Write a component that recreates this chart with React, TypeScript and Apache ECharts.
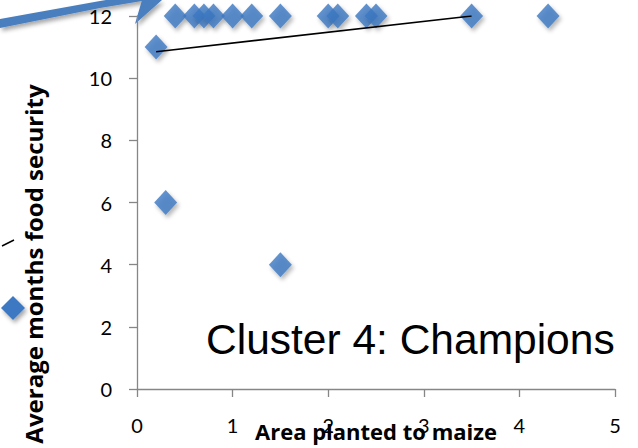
import React, { useEffect, useRef } from "react";
import * as echarts from "echarts";

const xTicks = [0, 1, 2, 3, 4, 5];
const yTicks = [0, 2, 4, 6, 8, 10, 12];
const areaPlanted = [0.2, 0.3, 0.4, 0.6, 0.7, 0.8, 1.0, 1.2, 1.5, 1.5, 2.0, 2.1, 2.4, 2.5, 3.5, 4.3];
const monthsSecure = [11, 6, 12, 12, 12, 12, 12, 12, 12, 4, 12, 12, 12, 12, 12, 12];
const trendX = [0.2, 3.5];
const trendY = [10.85, 12.0];
const xTitle = "Area planted to maize";
const yTitle = "Average months food security";
const clusterLabel = "Cluster 4: Champions";

const BLUE = "#3c78c2";

export default function App() {
  const ref = useRef<HTMLDivElement>(null);
  useEffect(() => {
    if (!ref.current) return;
    const chart = echarts.init(ref.current, null, { renderer: "svg" });
    const axisColor = "#868686";
    const shadow = {
      shadowColor: "rgba(0,0,0,0.35)",
      shadowBlur: 4,
      shadowOffsetX: 2,
      shadowOffsetY: 3,
    };
    chart.setOption({
      animation: false,
      backgroundColor: "#ffffff",
      grid: {
        left: 137,
        right: 23,
        top: 16,
        bottom: 59,
        containLabel: false,
        outerBoundsMode: "none",
      },
      xAxis: {
        type: "value",
        min: xTicks[0],
        max: xTicks[xTicks.length - 1],
        interval: 1,
        name: xTitle,
        nameLocation: "middle",
        nameGap: 31,
        nameMoveOverlap: false,
        nameTextStyle: { fontFamily: "Open Sans", fontWeight: "bold", fontSize: 22, color: "#000" },
        axisLine: { lineStyle: { color: axisColor, width: 1.3 } },
        axisTick: { show: true, length: 8, lineStyle: { color: axisColor, width: 1.3 } },
        axisLabel: { margin: 26, fontFamily: "Lato", fontSize: 20, color: "#000" },
        splitLine: { show: false },
      },
      yAxis: {
        type: "value",
        min: yTicks[0],
        max: yTicks[yTicks.length - 1],
        interval: 2,
        axisLine: { show: true, lineStyle: { color: axisColor, width: 1.3 } },
        axisTick: { show: true, length: 8, lineStyle: { color: axisColor, width: 1.3 } },
        axisLabel: { margin: 25, fontFamily: "Lato", fontSize: 20, color: "#000" },
        splitLine: { show: false },
      },
      series: [
        {
          type: "scatter",
          symbol: "diamond",
          symbolSize: [23, 25],
          itemStyle: { color: BLUE, ...shadow },
          data: areaPlanted.map((x, i) => [x, monthsSecure[i]]),
          z: 2,
        },
        {
          type: "line",
          symbol: "none",
          lineStyle: { color: "#000", width: 1.6 },
          data: trendX.map((x, i) => [x, trendY[i]]),
          z: 3,
        },
      ],
      graphic: [
        {
          type: "text",
          x: 33,
          y: 264,
          rotation: Math.PI / 2,
          style: {
            text: yTitle,
            x: 0,
            y: 0,
            align: "center",
            verticalAlign: "middle",
            fontFamily: "Open Sans",
            fontWeight: "bold",
            fontSize: 24,
            fill: "#000",
          },
        },
        {
          type: "text",
          x: 206,
          y: 339,
          style: {
            text: clusterLabel,
            align: "left",
            verticalAlign: "middle",
            fontFamily: "Liberation Sans",
            fontSize: 42.5,
            fill: "#000",
          },
        },
        {
          type: "polygon",
          shape: {
            points: [
              [0, 19], [50, 10], [100, 1], [142, -6],
              [142, 1], [100, 8], [50, 18], [0, 28],
            ],
          },
          style: { fill: "#4a7ebf", ...shadow },
        },
        {
          type: "polygon",
          shape: { points: [[135, 24], [142, 0], [162, 0]] },
          style: { fill: "#4a7ebf", ...shadow },
        },
        {
          type: "polygon",
          shape: { points: [[13, 296], [25, 308], [13, 320], [1, 308]] },
          style: { fill: BLUE, ...shadow },
        },
        {
          type: "line",
          shape: { x1: 2, y1: 246, x2: 14, y2: 240 },
          style: { stroke: "#000", lineWidth: 1.5 },
        },
      ],
    });
    return () => chart.dispose();
  }, []);
  return (
    <div
      ref={ref}
      style={{ position: "fixed", left: 0, top: 0, width: 638, height: 448 }}
    />
  );
}
